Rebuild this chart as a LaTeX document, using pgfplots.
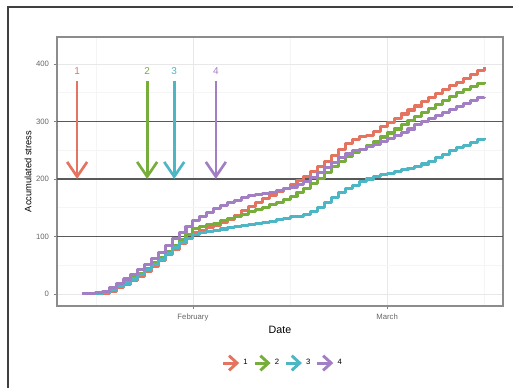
\documentclass[border=0pt]{standalone}
\usepackage{pgfplots}
\usepackage{pgfplotstable}
\pgfplotsset{compat=1.18}
\usepackage{fontspec}
\setmainfont{Liberation Sans}
\usetikzlibrary{arrows.meta}
\definecolor{cA}{HTML}{E4745F}
\definecolor{cB}{HTML}{76AD3B}
\definecolor{cC}{HTML}{4DB6C4}
\definecolor{cD}{HTML}{A27FC4}
\pgfplotstableread{
d r g c p
-16 0 0 0 0
-15 0 0 0 1
-14 0 1 1 3
-13 1 3 3 5
-12 5 8 7 11
-11 11 14 13 18
-10 17 21 19 26
-9 23 28 26 34
-8 31 36 34 42
-7 39 45 42 51
-6 48 54 51 61
-5 58 64 60 72
-4 68 74 70 84
-3 78 84 80 96
-2 88 94 89 107
-1 97 104 97 117
0 106 114 104 127
1 111 118 107 135
2 115 120 109 142
3 119 123 111 148
4 124 127 113 154
5 130 131 115 159
6 137 135 117 163
7 145 139 119 167
8 152 143 121 171
9 159 147 123 173
10 166 151 124 175
11 172 155 126 177
12 178 159 129 180
13 184 165 132 183
14 190 170 134 186
15 197 177 135 190
16 205 184 138 195
17 213 192 144 203
18 222 201 151 212
19 231 211 159 220
20 241 221 168 228
21 251 231 177 237
22 261 239 183 245
23 269 246 189 249
24 274 252 195 252
25 276 258 200 256
26 283 265 204 260
27 291 273 207 265
28 298 280 210 270
29 306 287 213 275
30 313 294 216 281
31 320 301 219 287
32 327 309 222 294
33 334 316 226 300
34 341 323 231 306
35 348 330 237 311
36 355 337 243 316
37 362 344 249 321
38 368 350 254 326
39 374 356 259 331
40 381 361 264 336
41 388 366 269 341
42 394 369 272 343
}\stress
\begin{document}
\begin{tikzpicture}[x=1pt,y=1pt]
\path[use as bounding box] (0,0) rectangle (384.75,290.25);
\draw[line width=1.5pt, color=black!75] (6,-10) -- (6,285) -- (400,285);
\begin{axis}[
  at={(42.75pt,60.75pt)}, anchor=south west,
  scale only axis, width=334.5pt, height=201.75pt,
  xmin=-19.6, xmax=44.7, ymin=-21, ymax=447,
  xtick={0,28}, xticklabels={February,March},
  minor xtick={-14,14,42},
  ytick={0,100,200,300,400},
  minor ytick={50,150,250,350},
  grid=both,
  major grid style={color=black!9, line width=0.6pt},
  minor grid style={color=black!4, line width=0.4pt},
  axis line style={color=black!45, line width=0.8pt},
  tick align=outside,
  major tick length=2.5pt, minor tick length=0pt,
  major tick style={color=black!50, line width=0.5pt},
  xtick pos=bottom, ytick pos=left,
  /pgf/number format/assume math mode=true,
  tick label style={font=\fontsize{5.8}{6}\selectfont, color=black!60},
  xlabel={Date}, ylabel={Accumulated stress},
  xlabel style={font=\fontsize{8}{9}\selectfont, at={(rel axis cs:0.5,-0.089)}, anchor=center},
  ylabel style={font=\fontsize{7}{8}\selectfont, at={(rel axis cs:-0.065,0.5)}, anchor=center, rotate=0},
  legend style={at={(rel axis cs:0.507,-0.212)}, anchor=center, draw=none, fill=none,
    legend columns=4, font=\fontsize{5.8}{6}\selectfont,
    /tikz/every even column/.append style={column sep=2pt}},
  legend image code/.code={\draw[#1, line width=2.2pt, -{Straight Barb[length=6pt,width=11pt]}] (0pt,0pt) -- (12pt,0pt);},
]
\addplot[forget plot, black!65, line width=1pt] coordinates {(-19.6,100) (44.7,100)};
\addplot[forget plot, black!65, line width=1pt] coordinates {(-19.6,200) (44.7,200)};
\addplot[forget plot, black!65, line width=1pt] coordinates {(-19.6,300) (44.7,300)};
\addplot[cA, const plot, line width=2.3pt, line join=round] table[x=d, y=r] {\stress};
\addlegendentry{1}
\addplot[cB, const plot, line width=2.3pt, line join=round] table[x=d, y=g] {\stress};
\addlegendentry{2}
\addplot[cC, const plot, line width=2.3pt, line join=round] table[x=d, y=c] {\stress};
\addlegendentry{3}
\addplot[cD, const plot, line width=2.3pt, line join=round] table[x=d, y=p] {\stress};
\addlegendentry{4}
\addplot[forget plot, cA, line width=2pt, -{Straight Barb[length=11pt,width=15pt]}] coordinates {(-16.7,370) (-16.7,200)};
\addplot[forget plot, cB, line width=2pt, -{Straight Barb[length=11pt,width=15pt]}] coordinates {(-6.6,370) (-6.6,200)};
\addplot[forget plot, cC, line width=2pt, -{Straight Barb[length=11pt,width=15pt]}] coordinates {(-2.7,370) (-2.7,200)};
\addplot[forget plot, cD, line width=2pt, -{Straight Barb[length=11pt,width=15pt]}] coordinates {(3.3,370) (3.3,200)};
\node[cA, font=\fontsize{7.5}{8}\selectfont] at (axis cs:-16.7,388) {1};
\node[cB, font=\fontsize{7.5}{8}\selectfont] at (axis cs:-6.6,388) {2};
\node[cC, font=\fontsize{7.5}{8}\selectfont] at (axis cs:-2.7,388) {3};
\node[cD, font=\fontsize{7.5}{8}\selectfont] at (axis cs:3.3,388) {4};
\end{axis}
\end{tikzpicture}
\end{document}
